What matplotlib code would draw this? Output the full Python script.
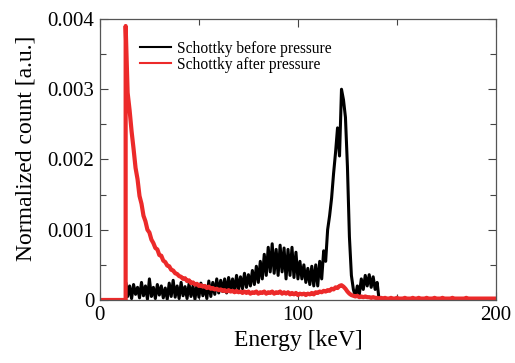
"""
Energy spectra of the Schottky detector, before and after pressure.
"""
import numpy as np
import matplotlib
matplotlib.use('Agg')
import matplotlib.pyplot as plt
from matplotlib.ticker import MultipleLocator, FixedLocator, FixedFormatter

# spectrum data, counts in units of 1e-3 (a.u.), 1 keV bins
BEFORE_START_KEV = 13
before_counts = [
    0.25, 0.05, 0.20, 0.02, 0.22, 0.08, 0.18, 0.03, 0.25, 0.06,
    0.20, 0.01, 0.30, 0.05, 0.18, 0.02, 0.22, 0.07, 0.20, 0.03,
    0.17, 0.01, 0.24, 0.05, 0.28, 0.04, 0.20, 0.02, 0.25, 0.06,
    0.19, 0.02, 0.23, 0.05, 0.20, 0.01, 0.22, 0.04, 0.24, 0.06,
    0.20, 0.02, 0.27, 0.05, 0.25, 0.08, 0.30, 0.10,
    0.28, 0.12, 0.30, 0.10, 0.32, 0.14, 0.30, 0.12, 0.35, 0.15,
    0.33, 0.16, 0.38, 0.18, 0.36, 0.20, 0.42, 0.22, 0.48, 0.25,
    0.55, 0.30, 0.65, 0.35, 0.75, 0.40, 0.80, 0.38, 0.72, 0.35,
    0.78, 0.40, 0.74, 0.30, 0.72, 0.35, 0.75, 0.32, 0.68, 0.30,
    0.55, 0.30, 0.50, 0.25, 0.45, 0.22, 0.48, 0.20, 0.50, 0.20,
    0.55, 0.30, 0.70, 0.55, 1.00, 1.20, 1.45, 1.80, 2.10, 2.45,
    2.05, 3.00, 2.85, 2.60, 1.90, 0.90, 0.35, 0.15, 0.05, 0.20,
    0.08, 0.30, 0.15, 0.35, 0.20, 0.36, 0.18, 0.33, 0.15, 0.25,
    0.00,
]

AFTER_START_KEV = 13
after_counts = [
    3.90, 2.95, 2.70, 2.40, 2.15, 1.88, 1.72, 1.48, 1.37, 1.20,
    1.12, 1.00, 0.96, 0.86, 0.81, 0.74, 0.72, 0.64, 0.63, 0.56,
    0.54, 0.49, 0.48, 0.43, 0.42, 0.38, 0.37, 0.34, 0.33, 0.30,
    0.31, 0.27, 0.28, 0.24, 0.25, 0.22, 0.23, 0.20, 0.21, 0.19,
    0.20, 0.17, 0.19, 0.16, 0.17, 0.15, 0.16, 0.14, 0.15, 0.13,
    0.14, 0.12, 0.14, 0.12, 0.13, 0.11, 0.13, 0.11, 0.12, 0.10,
    0.12, 0.10, 0.12, 0.09, 0.11, 0.10, 0.12, 0.09, 0.11, 0.10,
    0.12, 0.09, 0.11, 0.10, 0.12, 0.09, 0.11, 0.10, 0.12, 0.09,
    0.11, 0.09, 0.11, 0.08, 0.10, 0.08, 0.10, 0.07, 0.09, 0.08,
    0.09, 0.07, 0.09, 0.08, 0.10, 0.08, 0.11, 0.10, 0.12, 0.11,
    0.13, 0.12, 0.14, 0.13, 0.16, 0.15, 0.18, 0.17, 0.20, 0.21,
    0.19, 0.16, 0.12, 0.09, 0.07, 0.06, 0.05, 0.06, 0.04, 0.05,
    0.04, 0.05, 0.04, 0.04, 0.03, 0.04, 0.03, 0.03, 0.02, 0.03,
    0.02, 0.03, 0.02, 0.02, 0.03, 0.02, 0.02, 0.03, 0.02, 0.02,
    0.02, 0.03, 0.02, 0.02, 0.02, 0.03, 0.02, 0.02, 0.03, 0.02,
    0.02, 0.02, 0.03, 0.02, 0.02, 0.02, 0.03, 0.02, 0.02, 0.02,
    0.03, 0.02, 0.02, 0.02, 0.02, 0.03, 0.02, 0.02, 0.02, 0.02,
    0.02, 0.02, 0.03, 0.02, 0.02, 0.02, 0.02, 0.02, 0.02, 0.02,
    0.02, 0.02, 0.02, 0.02, 0.02, 0.02, 0.02, 0.02,
]

labels = ['Schottky before pressure', 'Schottky after pressure']
x_ticks = [0, 100, 200]
y_ticks = [0, 0.001, 0.002, 0.003, 0.004]
y_tick_labels = ['0', '0.001', '0.002', '0.003', '0.004']

plt.rcParams['font.family'] = ['Liberation Serif', 'DejaVu Serif']


def spectrum(start_kev, counts):
    """Returns energy and count arrays, with a zero run below threshold."""
    counts = np.asarray(counts) * 1e-3
    energy = start_kev + np.arange(len(counts))
    # below the threshold the spectrum is empty
    energy = np.concatenate([[0, start_kev - 0.01], energy])
    counts = np.concatenate([[0, 0], counts])
    return energy, counts


fig = plt.figure(figsize=(5.15, 3.63), dpi=100)
ax = fig.add_axes([0.194, 0.1736, 0.769, 0.7741])

e_before, c_before = spectrum(BEFORE_START_KEV, before_counts)
e_after, c_after = spectrum(AFTER_START_KEV, after_counts)
ax.plot(e_before, c_before, color='black', lw=2.2, label=labels[0])
ax.plot(e_after, c_after, color='#ec2a2a', lw=3.0, label=labels[1])

ax.set_xlim(0, 200)
ax.set_ylim(0, 0.004)
ax.xaxis.set_major_locator(FixedLocator(x_ticks))
ax.xaxis.set_minor_locator(MultipleLocator(50))
ax.yaxis.set_major_locator(FixedLocator(y_ticks))
ax.yaxis.set_major_formatter(FixedFormatter(y_tick_labels))
ax.yaxis.set_minor_locator(MultipleLocator(0.0005))
ax.tick_params(which='both', direction='in', top=True, right=True,
               color='#444444', width=0.8)
ax.tick_params(which='major', length=6, labelsize=15, pad=4)
ax.tick_params(which='minor', length=4)
for spine in ax.spines.values():
    spine.set_color('#555555')
    spine.set_linewidth(0.9)

ax.set_xlabel('Energy [keV]', fontsize=17, labelpad=4)
ax.set_ylabel('Normalized count [a.u.]', fontsize=17)
ax.yaxis.set_label_coords(-0.16, 0.54)

leg = ax.legend(loc='upper left', bbox_to_anchor=(0.085, 0.945), frameon=False,
                fontsize=11.2, handlelength=2.0, handletextpad=0.4,
                labelspacing=0.0, borderaxespad=0)
for line in leg.get_lines():
    line.set_linewidth(1.5)

fig.savefig('out.png', dpi=100)
